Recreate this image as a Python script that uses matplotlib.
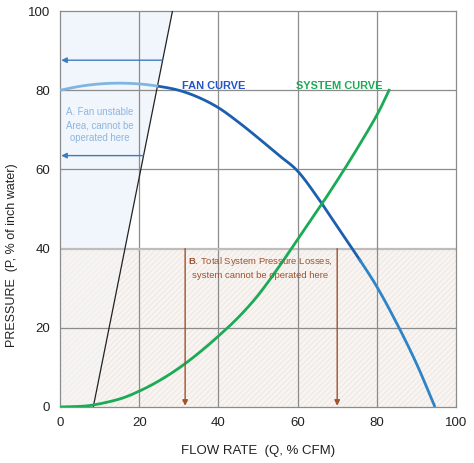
import matplotlib
matplotlib.use("Agg")
import matplotlib.pyplot as plt
import numpy as np

plt.rcParams['font.family'] = ['Liberation Sans', 'DejaVu Sans']
plt.rcParams['mathtext.fontset'] = 'custom'
plt.rcParams['mathtext.bf'] = 'Liberation Sans:bold'
plt.rcParams['mathtext.rm'] = 'Liberation Sans'
plt.rcParams['hatch.linewidth'] = 0.5

# Fan curve (flow %, pressure %)
fan_q = [0, 5, 10, 15, 20, 25, 30, 35, 40, 45, 50, 55, 60, 65, 70, 75, 80, 85, 90, 94.7]
fan_p = [80, 81.0, 81.6, 81.8, 81.6, 81.0, 80.0, 78.2, 75.6, 72.0, 68.0, 63.8, 59.6, 53.0, 45.6, 38.2, 30.4, 21.2, 11.0, 0]

# System curve
sys_q = [0, 4, 8.4, 15, 20, 25, 30, 35, 40, 45, 50, 55, 60, 65, 70, 75, 80, 83.1]
sys_p = [0, 0.1, 0.5, 2.0, 4.0, 6.6, 9.8, 13.6, 17.9, 22.6, 28.2, 35.0, 42.3, 49.6, 57.2, 65.2, 73.7, 80]

# Stability limit line
limit_q = [8.4, 28.4]
limit_p = [0, 100]

# Arrows
arrow_a_y = [87.6, 63.5]
arrow_a_x0 = [25.8, 21.0]
arrow_b_x = [31.6, 70.0]
loss_limit = 40

ticks = [0, 20, 40, 60, 80, 100]


def catmull(xp, yp, n=20):
    xp = np.asarray(xp, float); yp = np.asarray(yp, float)
    P = np.column_stack([xp, yp])
    P = np.vstack([2 * P[0] - P[1], P, 2 * P[-1] - P[-2]])
    out = []
    t = np.linspace(0, 1, n, endpoint=False)[:, None]
    for i in range(1, len(P) - 2):
        p0, p1, p2, p3 = P[i - 1], P[i], P[i + 1], P[i + 2]
        c = 0.5 * ((2 * p1) + (-p0 + p2) * t + (2 * p0 - 5 * p1 + 4 * p2 - p3) * t ** 2
                   + (-p0 + 3 * p1 - 3 * p2 + p3) * t ** 3)
        out.append(c)
    out.append(P[-2][None, :])
    out = np.vstack(out)
    return out[:, 0], out[:, 1]


fig = plt.figure(figsize=(4.74, 4.63), dpi=100)
ax = fig.add_axes([0.1266, 0.121, 0.8354, 0.855])
ax.set_xlim(0, 100)
ax.set_ylim(0, 100)

# Region B (hatched)
ax.fill_between([0, 100], 0, loss_limit, facecolor='#F8F4F1', edgecolor='#EAE2DC',
                hatch='//////', linewidth=0, zorder=0)
# Region A (light blue above loss limit, greyish below)
yy = np.array(limit_p, float)
xx = np.array(limit_q, float)
q40 = np.interp(loss_limit, yy, xx)
ax.fill_betweenx([loss_limit, 100], 0, [q40, limit_q[1]], facecolor='#F1F6FC', linewidth=0, zorder=0.5)
ax.fill_betweenx([0, loss_limit], 0, [limit_q[0], q40], facecolor='#F4F4F4', alpha=0.55,
                 linewidth=0, zorder=0.5)

# grid
for t in ticks[1:-1]:
    ax.axvline(t, color='#8C8C8C', lw=0.9, zorder=1)
    ax.axhline(t, color='#BDBDBD' if t == 40 else '#8C8C8C', lw=1.6 if t == 40 else 0.9, zorder=1)
for s in ax.spines.values():
    s.set_color('#8C8C8C')
    s.set_linewidth(0.9)

# limit line
ax.plot(limit_q, limit_p, color='#222222', lw=0.9, zorder=3)

# fan curve with colour segments
xs, ys = catmull(fan_q, fan_p)
def seg(a, b, c):
    m = (xs >= a) & (xs <= b)
    ax.plot(xs[m], ys[m], color=c, lw=2.0, zorder=4, solid_capstyle='butt')
seg(0, 25.0, '#80B5E0')
seg(24.6, 76, '#1C5FAE')
seg(75.5, 95, '#2E84C8')

# system curve
sx, sy = catmull(sys_q, sys_p)
ax.plot(sx, sy, color='#1BAA55', lw=2.0, zorder=4)

# arrows A
for y, x0 in zip(arrow_a_y, arrow_a_x0):
    ax.annotate('', xy=(0.3, y), xytext=(x0, y),
                arrowprops=dict(arrowstyle='-|>', color='#3B7CC0', lw=1.0,
                                mutation_scale=8, shrinkA=0, shrinkB=0), zorder=5)
# arrows B
for x in arrow_b_x:
    ax.annotate('', xy=(x, 0.3), xytext=(x, loss_limit),
                arrowprops=dict(arrowstyle='-|>', color='#A0522D', lw=1.0,
                                mutation_scale=8, shrinkA=0, shrinkB=0), zorder=5)

ax.text(10.1, 71.2, 'A. Fan unstable\nArea, cannot be\noperated here', color='#8DB6E0',
        fontsize=6.9, ha='center', va='center', linespacing=1.4, zorder=6)
ax.text(30.8, 81.0, 'FAN CURVE', color='#2255C8', fontsize=7.9, fontweight='bold',
        ha='left', va='center', zorder=6)
ax.text(59.6, 81.0, 'SYSTEM CURVE', color='#1BAA55', fontsize=7.9, fontweight='bold',
        ha='left', va='center', zorder=6)
ax.text(50.5, 35.3, r'$\mathbf{B}$. Total System Pressure Losses,' + '\nsystem cannot be operated here',
        color='#A0522D', fontsize=6.8, ha='center', va='center', linespacing=1.4, zorder=6)

ax.set_xticks(ticks)
ax.set_yticks(ticks)
ax.tick_params(length=0, labelsize=9.5, pad=7, colors='#222222')
ax.set_xlabel('FLOW RATE  (Q, % CFM)', fontsize=9.5, labelpad=12, color='#222222')
ax.set_ylabel('PRESSURE  (P, % of inch water)', fontsize=9, labelpad=8, color='#222222')
ax.yaxis.set_label_coords(-0.105, 0.384)

fig.savefig('out.png', dpi=100)
